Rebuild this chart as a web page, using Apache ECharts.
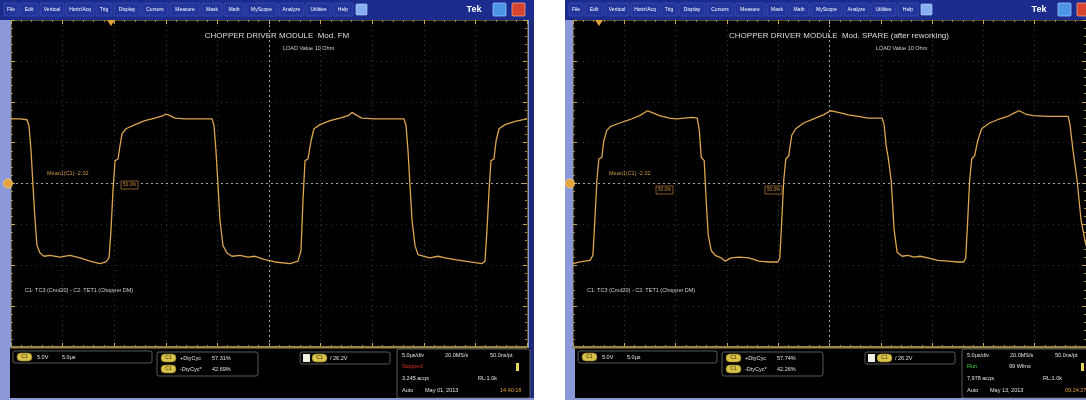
<!DOCTYPE html>
<html>
<head>
<meta charset="utf-8">
<script src="https://cdn.jsdelivr.net/npm/echarts@6/dist/echarts.min.js"></script>
<style>
html,body{margin:0;padding:0;background:#ffffff;}
#scope{width:1086px;height:400px;}
</style>
</head>
<body>
<div id="scope"></div>
<script>
// Horizontal: 5.0 µs/div, 10 divisions. Vertical: CH1 at 5.0 V/div, 8 divisions.
const timeRange = [0, 50];
const voltRange = [-20, 20];

// CH1 trace, Mod. FM  ([time µs, volts])
const traceFM = [
  [0,7.9],[0.87,7.9],[1.55,7.8],[1.74,7.1],[1.94,4.0],[2.13,-0.2],[2.33,-4.5],[2.52,-7.6],[2.81,-8.5],[3.20,-8.9],
  [3.78,-8.8],[4.75,-9.0],[5.72,-8.8],[6.69,-9.1],[7.66,-9.5],[8.62,-9.8],[9.21,-9.6],[9.50,-9.1],[9.69,-5.7],[9.88,-0.9],
  [10.08,2.8],[10.37,3.0],[10.56,4.6],[10.76,6.1],[11.14,6.7],[12.02,7.2],[12.98,7.7],[13.95,8.0],[14.73,8.3],[15.02,8.5],
  [15.41,8.3],[15.89,8.0],[16.86,7.9],[18.31,7.9],[19.48,7.9],[19.67,7.1],[19.86,4.0],[20.06,-0.2],[20.25,-4.5],[20.54,-7.6],
  [20.93,-8.5],[21.41,-8.9],[22.19,-8.8],[22.96,-9.0],[23.64,-8.9],[24.61,-9.3],[25.58,-9.6],[27.03,-9.8],[27.81,-9.5],[28.10,-8.2],
  [28.29,-2.1],[28.49,2.8],[28.78,3.0],[29.07,5.2],[29.36,6.7],[29.94,7.2],[30.91,7.7],[31.88,8.0],[32.66,8.3],[33.04,8.7],
  [33.43,8.4],[34.01,8.0],[35.27,7.9],[36.72,7.9],[38.08,7.9],[38.28,7.1],[38.47,4.0],[38.66,-0.2],[38.86,-4.5],[39.15,-7.6],
  [39.44,-8.7],[40.02,-8.9],[40.60,-9.1],[41.38,-8.9],[42.05,-9.1],[43.02,-9.3],[44.48,-9.6],[45.64,-9.8],[45.93,-9.5],[46.12,-5.7],
  [46.32,-0.9],[46.51,2.8],[46.80,3.0],[47.00,5.2],[47.29,6.7],[47.87,7.2],[48.84,7.6],[50,7.9]
];

// CH1 trace, Mod. SPARE after reworking  ([time µs, volts])
const traceSpare = [
  [0,-9.8],[0.68,-9.6],[1.65,-9.4],[1.94,-8.8],[2.13,-4.5],[2.33,0.4],[2.52,3.0],[2.81,3.2],[3.00,5.2],[3.29,6.5],
  [3.68,7.0],[4.55,7.4],[5.52,7.8],[6.49,8.3],[7.27,8.9],[7.66,8.7],[8.43,8.3],[9.40,8.0],[10.08,7.9],[10.85,8.0],
  [11.63,8.1],[12.11,8.0],[12.31,6.5],[12.50,3.2],[12.79,2.8],[12.98,-2.1],[13.18,-6.3],[13.47,-8.2],[13.86,-8.8],[14.44,-9.1],
  [14.83,-9.5],[15.41,-9.1],[16.18,-9.0],[17.15,-9.1],[18.12,-9.5],[19.09,-9.6],[19.96,-9.6],[20.16,-9.1],[20.35,-4.5],[20.54,0.4],
  [20.74,3.0],[21.03,3.4],[21.32,5.9],[21.71,6.7],[22.48,7.4],[23.45,7.9],[24.42,8.4],[25.10,8.9],[25.87,8.7],[26.84,8.4],
  [27.81,8.2],[28.78,8.0],[30.14,8.0],[30.33,7.1],[30.52,4.6],[30.72,3.2],[31.01,0.4],[31.30,-5.7],[31.59,-8.4],[32.07,-8.9],
  [32.66,-8.8],[33.24,-9.0],[33.82,-8.9],[34.59,-9.1],[35.56,-9.4],[36.53,-9.5],[37.50,-9.6],[38.08,-9.6],[38.28,-9.1],[38.47,-4.5],
  [38.66,0.4],[38.86,3.0],[39.15,3.4],[39.44,5.2],[39.83,6.7],[40.60,7.4],[41.38,7.8],[42.35,8.2],[43.12,8.7],[43.51,8.9],
  [44.09,8.5],[44.87,8.3],[46.22,8.2],[47.67,8.2],[48.26,8.2],[48.45,7.1],[48.74,4.0],[49.13,0.4],[49.52,-4.5],[50.00,-7.6]
];

const panelTitles = ['CHOPPER DRIVER MODULE  Mod. FM', 'CHOPPER DRIVER MODULE  Mod. SPARE (after reworking)'];
const loadNote = 'LOAD Value 10 Ohm';
const meanLabel = 'Mean1(C1) -2.02';
const refLevelLabel = '50.0%';
const channelNote = 'C1: TC3 (Cmd20) - C2: TET1 (Chopper DM)';
const menuItems = ['File','Edit','Vertical','Horiz/Acq','Trig','Display','Cursors','Measure','Mask','Math','MyScope','Analyze','Utilities','Help'];
const chScale = '5.0V';
const chOffset = '5.0µs';
const dutyPos = ['57.31%', '57.74%'];
const dutyNeg = ['42.69%', '42.26%'];
const trigLevel = '26.2V';
const horizInfo = ['5.0µs/div', '20.0MS/s', '50.0ns/pt'];
const acqState = [['Stopped', ''], ['Run', '99 Wfms']];
const acqCount = ['3,245 acqs', '7,978 acqs'];
const recLen = 'RL:1.0k';
const acqDate = ['May 01, 2013', 'May 13, 2013'];
const acqTime = ['14:40:18', '09:24:27'];

const FONT = '"Liberation Sans", Arial, sans-serif';
const TRACE = '#dca650';
const panelX = [0, 565];
const plotLeft = [11, 573];
const plotTop = 20, plotW = 516, plotH = 327;

function rect(x, y, w, h, style, z, r) {
  return {type: 'rect', z: z == null ? -5 : z, silent: true,
    shape: {x: x, y: y, width: w, height: h, r: r || 0}, style: style};
}
function text(x, y, s, size, fill, extra) {
  return {type: 'text', z: 60, silent: true, x: x, y: y,
    style: Object.assign({text: s, fill: fill || '#e2e2e2', font: (size || 7) + 'px ' + FONT,
      textVerticalAlign: 'middle'}, extra || {})};
}
function pill(x, y, label) {
  return [
    rect(x, y, 15, 8, {fill: '#d9c24a', stroke: '#8a7a20', lineWidth: 0.6}, 55, 4),
    text(x + 7.5, y + 4, label, 5, '#3a3000', {textAlign: 'center'})
  ];
}

const menuX = [4, 20, 40, 66, 96, 114, 142, 170, 202, 224, 246, 279, 306, 333];
const menuW = [14, 18, 24, 28, 16, 26, 26, 30, 20, 20, 31, 25, 25, 20];

const elements = [];
[0, 1].forEach(function (p) {
  const ox = panelX[p];
  const px = plotLeft[p];
  // frame, side strip and status area
  elements.push(rect(ox, 0, 534, 400, {fill: '#8b99d8'}, -20));
  elements.push(rect(ox + 529, 20, 5, 378, {fill: '#1d2a78'}, -19));
  elements.push(rect(ox + 10, 348, 520, 50, {fill: '#000000'}, -18));
  elements.push(rect(px, 346, plotW, 2.5, {fill: '#9c8646'}, 40));
  // menu bar
  elements.push(rect(ox, 0, 534, 20, {fill: '#1c2c8e'}, 10));
  menuItems.forEach(function (m, i) {
    elements.push(rect(ox + menuX[i], 3, menuW[i], 13, {fill: '#22359c', stroke: '#4458bc', lineWidth: 0.6}, 11, 1));
    elements.push(text(ox + menuX[i] + menuW[i] / 2, 9.5, m, 5, '#ffffff', {textAlign: 'center'}));
  });
  elements.push(rect(ox + 356, 4, 11, 11, {fill: '#86aef0', stroke: '#c8dcff', lineWidth: 0.6}, 11, 1));
  elements.push(text(ox + 474, 10, 'Tek', 9, '#ffffff', {textAlign: 'center', font: 'bold 9px ' + FONT}));
  elements.push(rect(ox + 493, 3, 13, 13, {fill: '#4c94e6', stroke: '#a8d0ff', lineWidth: 0.7}, 11, 1));
  elements.push(rect(ox + 512, 3, 13, 13, {fill: '#d8452e', stroke: '#ffb0a0', lineWidth: 0.7}, 11, 1));

  // annotations inside the graticule
  elements.push(text(px + plotW / 2 + 8, 36, panelTitles[p], 8, '#dcdcdc', {textAlign: 'center'}));
  elements.push(text(p === 0 ? ox + 283 : ox + 311, 48, loadNote, 5.5, '#cfcfcf'));
  elements.push(text(px + 36, 173, meanLabel, 5.5, '#d29a42'));
  elements.push(text(px + 14, 290, channelNote, 5.5, '#cfcfcf'));
  // channel ground marker and trigger position marker
  elements.push({type: 'circle', z: 60, silent: true, shape: {cx: px - 3, cy: 183.5, r: 4.5},
    style: {fill: '#e3a13c', stroke: '#ffd27a', lineWidth: 0.8}});
  elements.push({type: 'polygon', z: 60, silent: true,
    shape: {points: [[px + (p === 0 ? 96 : 22), 20], [px + (p === 0 ? 104 : 30), 20], [px + (p === 0 ? 100 : 26), 26]]},
    style: {fill: '#e3a13c'}});

  // status readouts
  const bs = {fill: 'none', stroke: '#6e6e6e', lineWidth: 0.8};
  elements.push(rect(ox + 13, 351, 139, 12, bs, 50, 2));
  elements.push.apply(elements, pill(ox + 17, 353, 'C1'));
  elements.push(text(ox + 37, 357, chScale, 5.5));
  elements.push(text(ox + 62, 357, chOffset, 5.5));

  elements.push(rect(ox + 157, 352, 101, 24, bs, 50, 2));
  elements.push.apply(elements, pill(ox + 161, 354, 'C1'));
  elements.push.apply(elements, pill(ox + 161, 365, 'C1'));
  elements.push(text(ox + 180, 358, '+DtyCyc', 5.5));
  elements.push(text(ox + 212, 358, dutyPos[p], 5.5));
  elements.push(text(ox + 180, 369, '-DtyCyc*', 5.5));
  elements.push(text(ox + 212, 369, dutyNeg[p], 5.5));

  elements.push(rect(ox + 300, 352, 90, 12, bs, 50, 2));
  elements.push(rect(ox + 303, 354, 7, 8, {fill: '#f0f0e0'}, 55));
  elements.push.apply(elements, pill(ox + 312, 354, 'C1'));
  elements.push(text(ox + 330, 358, '/ ' + trigLevel, 5.5));

  elements.push(rect(ox + 397, 349, 133, 49, bs, 50, 2));
  elements.push(text(ox + 402, 355, horizInfo[0], 5.5));
  elements.push(text(ox + 445, 355, horizInfo[1], 5.5));
  elements.push(text(ox + 490, 355, horizInfo[2], 5.5));
  elements.push(text(ox + 402, 366, acqState[p][0], 5.5, p === 0 ? '#e0302a' : '#3ccf3c'));
  elements.push(text(ox + 444, 366, acqState[p][1], 5.5));
  elements.push(rect(ox + 516, 363, 3, 8, {fill: '#e8d85a'}, 55));
  elements.push(text(ox + 402, 378, acqCount[p], 5.5));
  elements.push(text(ox + 478, 378, recLen, 5.5));
  elements.push(text(ox + 402, 390, 'Auto', 5.5));
  elements.push(text(ox + 425, 390, acqDate[p], 5.5));
  elements.push(text(ox + 500, 390, acqTime[p], 5.5, '#e09a3a'));
});
// reference level readouts on the centre line
elements.push(rect(plotLeft[0] + 110, 181, 17, 8, {fill: '#000', stroke: '#c0803a', lineWidth: 0.7}, 58));
elements.push(text(plotLeft[0] + 118.5, 185, refLevelLabel, 4.5, '#d29a42', {textAlign: 'center'}));
elements.push(rect(plotLeft[1] + 83, 186, 17, 8, {fill: '#000', stroke: '#c0803a', lineWidth: 0.7}, 58));
elements.push(text(plotLeft[1] + 91.5, 190, refLevelLabel, 4.5, '#d29a42', {textAlign: 'center'}));
elements.push(rect(plotLeft[1] + 192, 186, 17, 8, {fill: '#000', stroke: '#c0803a', lineWidth: 0.7}, 58));
elements.push(text(plotLeft[1] + 200.5, 190, refLevelLabel, 4.5, '#d29a42', {textAlign: 'center'}));

function xAx(g, pos) {
  return {gridIndex: g, type: 'value', position: pos, min: timeRange[0], max: timeRange[1], interval: 5,
    axisLabel: {show: false},
    axisLine: {show: true, onZero: false, lineStyle: {color: '#5a4e2a', width: 1}},
    axisTick: {show: true, inside: true, length: 4, lineStyle: {color: '#c7a54a'}},
    minorTick: {show: true, splitNumber: 5, length: 2, lineStyle: {color: '#a88c3e'}},
    splitLine: {show: pos === 'bottom', lineStyle: {color: '#3a3a3a', type: [1, 4], width: 1}}};
}
function yAx(g, pos) {
  return {gridIndex: g, type: 'value', position: pos, min: voltRange[0], max: voltRange[1], interval: 5,
    axisLabel: {show: false},
    axisLine: {show: true, onZero: false, lineStyle: {color: '#5a4e2a', width: 1}},
    axisTick: {show: true, inside: true, length: 4, lineStyle: {color: '#c7a54a'}},
    minorTick: {show: true, splitNumber: 5, length: 2, lineStyle: {color: '#a88c3e'}},
    splitLine: {show: pos === 'left', lineStyle: {color: '#2e2e2e', type: [1, 4], width: 1}}};
}
function traceSeries(g, data) {
  return {type: 'line', xAxisIndex: g * 2, yAxisIndex: g * 2, data: data, showSymbol: false, silent: true,
    animation: false, z: 5, lineStyle: {color: TRACE, width: 1.3},
    markLine: {silent: true, symbol: 'none', animation: false, label: {show: false},
      lineStyle: {color: '#a8a8a8', type: [2, 3], width: 1},
      data: [{xAxis: 25}, {yAxis: 0}]}};
}

const chart = echarts.init(document.getElementById('scope'), null, {renderer: 'canvas'});
chart.setOption({
  animation: false,
  backgroundColor: 'transparent',
  grid: [
    {left: plotLeft[0], top: plotTop, width: plotW, height: plotH, show: true, backgroundColor: '#000', borderWidth: 0},
    {left: plotLeft[1], top: plotTop, width: plotW, height: plotH, show: true, backgroundColor: '#000', borderWidth: 0}
  ],
  xAxis: [xAx(0, 'bottom'), xAx(0, 'top'), xAx(1, 'bottom'), xAx(1, 'top')],
  yAxis: [yAx(0, 'left'), yAx(0, 'right'), yAx(1, 'left'), yAx(1, 'right')],
  series: [traceSeries(0, traceFM), traceSeries(1, traceSpare)],
  graphic: {elements: elements}
});
</script>
</body>
</html>
